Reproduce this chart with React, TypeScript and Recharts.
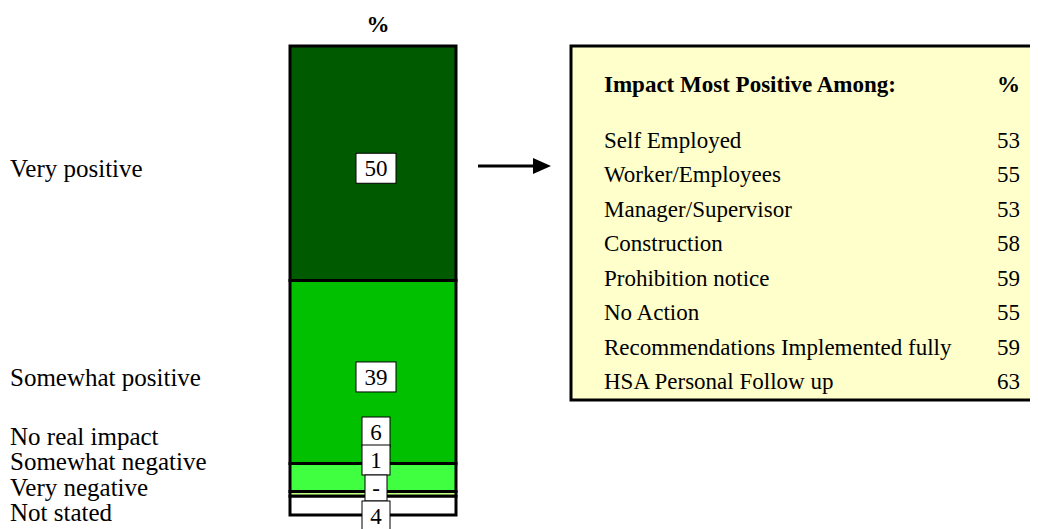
import React from 'react';
import { BarChart, Bar, XAxis, YAxis, LabelList } from 'recharts';

// ---- data ----
const categories = [
  'Very positive',
  'Somewhat positive',
  'No real impact',
  'Somewhat negative',
  'Very negative',
  'Not stated',
];
const values = [50, 39, 6, 1, 0, 4];
const valueLabels = ['50', '39', '6', '1', '-', '4'];
const colors = ['#005a00', '#00c000', '#40ff40', '#c0ff80', '#ffffff', '#ffffff'];

const subgroups = [
  'Self Employed',
  'Worker/Employees',
  'Manager/Supervisor',
  'Construction',
  'Prohibition notice',
  'No Action',
  'Recommendations Implemented fully',
  'HSA Personal Follow up',
];
const subgroupValues = [53, 55, 53, 58, 59, 55, 59, 63];
const boxTitle = 'Impact Most Positive Among:';
const pctHeader = '%';

// ---- layout ----
const W = 1038;
const H = 529;
const margin = { top: 46, bottom: 14, left: 290, right: 582 };
const FONT = '"Liberation Serif", "Times New Roman", serif';

const row: Record<string, string | number> = { name: 'all' };
categories.forEach((c, i) => {
  row[c] = values[i];
});
const data = [row];

const SMALL = 10;
const LAST = values.length - 1;

// Drawn from the last (bottom, topmost-layer) segment: derives the stack's
// pixel scale from that segment's geometry and places every value box and
// left-hand category label.
const AllLabels = (props: any) => {
  const vb = props.viewBox && props.viewBox.width != null ? props.viewBox : props;
  const rx = Number(vb.x);
  const ry = Number(vb.y);
  const rw = Number(vb.width);
  const rh = Number(vb.height);
  const x = Math.min(rx, rx + rw);
  const width = Math.abs(rw);
  const y = Math.min(ry, ry + rh);
  const height = Math.abs(rh);
  const ppu = height / values[LAST];
  const before = values.slice(0, LAST).reduce((a, b) => a + b, 0);
  const top = y - before * ppu;
  const bottom = y + height;
  const cx = x + width / 2 + 3;
  const out: React.ReactNode[] = [];
  let cum = 0;
  values.forEach((v, i) => {
    const segTop = top + cum * ppu;
    const segH = v * ppu;
    cum += v;
    let cy: number;
    let ly: number;
    if (v >= SMALL) {
      cy = segTop + segH / 2 + 5;
      ly = cy;
    } else {
      let k = 0;
      for (let j = i + 1; j < values.length; j++) if (values[j] < SMALL) k++;
      cy = bottom + 1 - k * 28;
      ly = bottom - 3 - k * 25.5;
    }
    const txt = valueLabels[i];
    const bw = txt === '-' ? 22 : 16 + txt.length * 12;
    const bh = txt === '-' ? 26 : 30;
    out.push(
      <g key={i}>
        <rect x={cx - bw / 2} y={cy - bh / 2} width={bw} height={bh} fill="#fff" stroke="#000" strokeWidth={1} />
        <text x={cx} y={cy + 8} textAnchor="middle" fontFamily={FONT} fontSize={23} fill="#000">
          {txt}
        </text>
        <text x={10} y={ly + 9} textAnchor="start" fontFamily={FONT} fontSize={25} fill="#000">
          {categories[i]}
        </text>
      </g>
    );
  });
  return <g>{out}</g>;
};

export default function App() {
  const boxX = 571;
  const boxY = 46;
  const boxBottom = 400;
  const rowStart = 148;
  const rowStep = 34.45;
  return (
    <div style={{ marginLeft: -8, marginTop: -8, position: 'relative', width: W, height: H, background: '#fff' }}>
      <BarChart width={W} height={H} data={data} margin={margin} barCategoryGap={0}>
        <XAxis dataKey="name" hide />
        <YAxis hide domain={[0, 100]} reversed type="number" />
        {categories.map((c, i) => (
          <Bar
            key={c}
            dataKey={c}
            stackId="a"
            fill={colors[i]}
            stroke="#000"
            strokeWidth={3}
            isAnimationActive={false}
          >
            {i === LAST ? <LabelList dataKey={c} content={AllLabels} /> : null}
          </Bar>
        ))}
      </BarChart>
      <svg
        width={W}
        height={H}
        style={{ position: 'absolute', left: 0, top: 0, pointerEvents: 'none' }}
      >
        <text x={378} y={32} textAnchor="middle" fontFamily={FONT} fontSize={23} fontWeight="bold" fill="#000">
          {pctHeader}
        </text>
        {/* arrow */}
        <line x1={478} y1={166} x2={536} y2={166} stroke="#000" strokeWidth={3} />
        <polygon points="533,158 551,166 533,174" fill="#000" />
        {/* box */}
        <rect x={boxX} y={boxY} width={W - boxX + 20} height={boxBottom - boxY} fill="#ffffcc" stroke="#000" strokeWidth={3} />
        <text x={604} y={92} fontFamily={FONT} fontSize={23} fontWeight="bold" fill="#000">
          {boxTitle}
        </text>
        <text x={1020} y={92} textAnchor="end" fontFamily={FONT} fontSize={23} fontWeight="bold" fill="#000">
          {pctHeader}
        </text>
        {subgroups.map((s, i) => (
          <g key={s}>
            <text x={604} y={rowStart + i * rowStep} fontFamily={FONT} fontSize={23} fill="#000">
              {s}
            </text>
            <text x={1020} y={rowStart + i * rowStep} textAnchor="end" fontFamily={FONT} fontSize={23} fill="#000">
              {subgroupValues[i]}
            </text>
          </g>
        ))}
      </svg>
    </div>
  );
}
